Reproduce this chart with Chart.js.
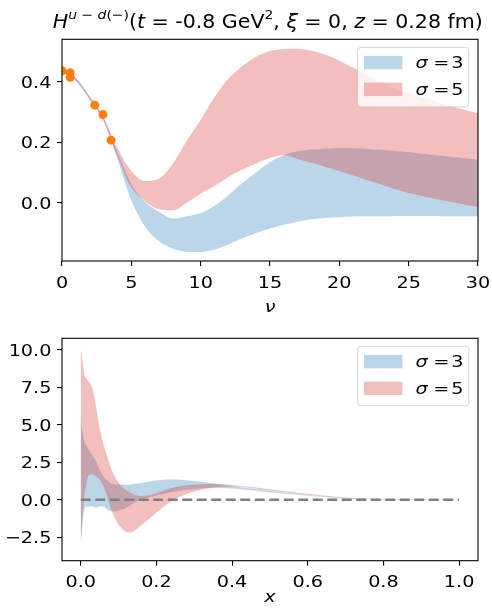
<!DOCTYPE html>
<html>
<head>
<meta charset="utf-8">
<script src="https://cdn.jsdelivr.net/npm/chart.js@4.4.0/dist/chart.umd.min.js"></script>
<style>
  html, body { margin: 0; padding: 0; background: #fff; }
  #wrap { position: relative; width: 492px; height: 612px; }
  canvas { position: absolute; left: 0; }
  #topChart { top: 0; }
  #bottomChart { top: 320px; }
</style>
</head>
<body>
<div id="wrap">
  <canvas id="topChart" width="492" height="320"></canvas>
  <canvas id="bottomChart" width="492" height="292"></canvas>
</div>
<script>
// --- ν-space: reconstructed matrix element, two prior widths ---
const nuGrid = [0, 1, 2, 3, 4, 5, 6, 7, 8, 9, 10, 11, 12, 13, 14, 15, 16, 17, 18, 19, 20, 21, 22, 23, 24, 25, 26, 27, 28, 29, 30];
const sig3NuUpper = [0.440, 0.412, 0.350, 0.280, 0.168, 0.062, 0.002, -0.030, -0.052, -0.045, -0.035, -0.010, 0.025, 0.065, 0.100, 0.135, 0.158, 0.170, 0.176, 0.179, 0.181, 0.180, 0.178, 0.175, 0.171, 0.167, 0.162, 0.157, 0.152, 0.147, 0.142];
const sig3NuLower = [0.433, 0.404, 0.341, 0.270, 0.145, 0.008, -0.080, -0.128, -0.152, -0.163, -0.163, -0.155, -0.138, -0.118, -0.100, -0.085, -0.073, -0.063, -0.055, -0.050, -0.048, -0.046, -0.045, -0.045, -0.044, -0.044, -0.044, -0.044, -0.045, -0.045, -0.045];
const sig5NuUpper = [0.441, 0.414, 0.352, 0.282, 0.180, 0.105, 0.072, 0.080, 0.130, 0.205, 0.275, 0.350, 0.410, 0.452, 0.483, 0.502, 0.509, 0.510, 0.503, 0.490, 0.470, 0.447, 0.422, 0.398, 0.378, 0.362, 0.348, 0.334, 0.320, 0.308, 0.296];
const sig5NuLower = [0.434, 0.406, 0.343, 0.272, 0.152, 0.050, 0.005, -0.022, -0.025, 0.000, 0.030, 0.055, 0.085, 0.110, 0.130, 0.148, 0.158, 0.145, 0.132, 0.118, 0.105, 0.090, 0.075, 0.060, 0.045, 0.032, 0.022, 0.012, 0.003, -0.006, -0.015];

// lattice matrix elements
const latticeNu = [0.0, 0.59, 0.59, 2.36, 2.95, 3.54];
const latticeVal = [0.437, 0.430, 0.415, 0.323, 0.292, 0.207];

// --- x-space distribution ---
const xGrid = [0, 0.005, 0.01, 0.015, 0.02, 0.03, 0.04, 0.05, 0.06, 0.07, 0.08, 0.09, 0.1, 0.11, 0.12, 0.13, 0.14, 0.16, 0.18, 0.2, 0.22, 0.25, 0.3, 0.35, 0.4, 0.45, 0.5, 0.55, 0.6, 0.65, 0.7, 0.75, 0.8, 0.9, 1.0];
const sig3XUpper = [5.25, 4.5, 3.8, 3.6, 3.4, 3.0, 2.6, 2.0, 1.55, 1.3, 1.1, 1.02, 1.0, 1.0, 1.0, 1.02, 1.05, 1.12, 1.2, 1.28, 1.33, 1.35, 1.25, 1.1, 0.9, 0.75, 0.6, 0.45, 0.32, 0.2, 0.11, 0.06, 0.03, 0.01, 0];
const sig3XLower = [-2.9, -1.5, -0.6, -0.45, -0.45, -0.45, -0.5, -0.45, -0.45, -0.65, -0.78, -0.78, -0.72, -0.66, -0.55, -0.38, -0.22, 0.0, 0.15, 0.28, 0.4, 0.55, 0.72, 0.78, 0.75, 0.63, 0.5, 0.38, 0.26, 0.16, 0.08, 0.04, 0.02, 0.005, 0];
const sig5XUpper = [10.1, 9.2, 8.3, 8.1, 7.9, 7.5, 6.3, 4.8, 3.7, 2.9, 2.1, 1.55, 1.15, 0.85, 0.65, 0.5, 0.35, 0.25, 0.3, 0.45, 0.62, 0.85, 1.02, 1.05, 0.98, 0.85, 0.7, 0.55, 0.4, 0.27, 0.15, 0.08, 0.04, 0.01, 0];
const sig5XLower = [-3.4, -1.0, 0.3, 1.0, 1.6, 1.7, 1.55, 1.35, 0.9, 0.2, -0.6, -1.2, -1.65, -1.95, -2.15, -2.2, -2.1, -1.7, -1.3, -0.85, -0.45, 0.05, 0.55, 0.82, 0.88, 0.78, 0.62, 0.47, 0.33, 0.2, 0.1, 0.05, 0.02, 0.005, 0];
const zeroLineX = [0, 1];
const zeroLineY = [0, 0];

// tick positions
const nuTicks = [0, 5, 10, 15, 20, 25, 30];
const topYTicks = [0.0, 0.2, 0.4];
const xTicks = [0.0, 0.2, 0.4, 0.6, 0.8, 1.0];
const bottomYTicks = [-2.5, 0.0, 2.5, 5.0, 7.5, 10.0];

const FONT = '"DejaVu Sans", sans-serif';
const TICK_SIZE = 16;
const TEXT_SX = 1.2;   // glyphs are set slightly wide
const BLUE = 'rgba(31,119,180,0.3)';
const RED = 'rgba(214,39,40,0.3)';

Chart.defaults.font.family = FONT;
Chart.defaults.color = '#000';

function pts(xs, ys) {
  return xs.map((x, i) => ({ x, y: ys[i] }));
}

function band(label, xs, hi, lo, color, order) {
  const common = { borderColor: 'transparent', borderWidth: 0, pointRadius: 0, cubicInterpolationMode: 'monotone', order };
  return [
    { ...common, label, data: pts(xs, hi), fill: '+1', backgroundColor: color },
    { ...common, label: label + '_lo', data: pts(xs, lo), fill: false }
  ];
}

function axis(ticks, min, max, size, horizontal) {
  return {
    type: 'linear', min, max,
    afterBuildTicks: s => { s.ticks = ticks.map(v => ({ value: v })); },
    ticks: { display: false },
    grid: { drawOnChartArea: false, drawTicks: true, tickLength: 5, color: '#000', lineWidth: 1.1 },
    border: { display: false },
    afterFit: s => { if (horizontal) s.height = size; else s.width = size; }
  };
}

// plain text, stretched horizontally around its anchor
function drawText(ctx, text, x, y, size, align, italic) {
  ctx.save();
  ctx.translate(x, y);
  ctx.scale(TEXT_SX, 1);
  ctx.font = (italic ? 'italic ' : '') + size + 'px ' + FONT;
  ctx.textAlign = align;
  ctx.textBaseline = 'alphabetic';
  ctx.fillStyle = '#000';
  ctx.fillText(text, 0, 0);
  ctx.restore();
}

function setPartFont(ctx, p, size) {
  const sz = p.sup ? size * 0.68 : size;
  ctx.font = (p.it ? 'italic ' : '') + sz + 'px ' + FONT;
}

function richWidth(ctx, parts, size) {
  let w = 0;
  parts.forEach(p => { setPartFont(ctx, p, size); w += ctx.measureText(p.t).width; });
  return w;
}

const framePlugin = {
  id: 'frame',
  afterDatasetsDraw(chart) {
    const { ctx, chartArea: a } = chart;
    ctx.save();
    ctx.strokeStyle = '#000';
    ctx.lineWidth = 1.1;
    ctx.strokeRect(a.left, a.top, a.right - a.left, a.bottom - a.top);
    ctx.restore();
  }
};

function axisTextPlugin(xFmt, yFmt, xTitle, xBase, titleBase) {
  return {
    id: 'axisText',
    afterDraw(chart) {
      const { ctx, chartArea: a, scales } = chart;
      scales.x.ticks.forEach(t => {
        drawText(ctx, xFmt(t.value), scales.x.getPixelForValue(t.value), a.bottom + xBase, TICK_SIZE, 'center');
      });
      scales.y.ticks.forEach(t => {
        drawText(ctx, yFmt(t.value), a.left - 10.6, scales.y.getPixelForValue(t.value) + 6, TICK_SIZE, 'right');
      });
      drawText(ctx, xTitle, (a.left + a.right) / 2, a.bottom + titleBase, TICK_SIZE, 'center', true);
    }
  };
}

const legendPlugin = {
  id: 'bandLegend',
  afterDraw(chart) {
    const { ctx, chartArea: a } = chart;
    const w = 111, h = 59.5;
    const x0 = a.right - 9.3 - w, y0 = a.top + 8;
    ctx.save();
    ctx.beginPath();
    ctx.roundRect(x0, y0, w, h, 3);
    ctx.fillStyle = 'rgba(255,255,255,0.8)';
    ctx.fill();
    ctx.strokeStyle = 'rgba(204,204,204,0.8)';
    ctx.lineWidth = 1;
    ctx.stroke();
    [[BLUE, '3'], [RED, '5']].forEach(([color, val], i) => {
      const base = y0 + 21 + i * 26.7;
      ctx.fillStyle = color;
      ctx.fillRect(x0 + 6.3, base - 12.4, 38.4, 13.4);
      drawText(ctx, 'σ', x0 + 57.7, base, TICK_SIZE, 'left', true);
      drawText(ctx, '=', x0 + 75.5, base, TICK_SIZE, 'left');
      drawText(ctx, val, x0 + 93.5, base, TICK_SIZE, 'left');
    });
    ctx.restore();
  }
};

const titleParts = [
  { t: 'H', it: true },
  { t: 'u', it: true, sup: true },
  { t: ' \u2212 ', sup: true },
  { t: 'd', it: true, sup: true },
  { t: '(\u2212)', sup: true },
  { t: '(' },
  { t: 't', it: true },
  { t: ' = -0.8 GeV' },
  { t: '2', sup: true },
  { t: ', ' },
  { t: 'ξ', it: true },
  { t: ' = 0, ' },
  { t: 'z', it: true },
  { t: ' = 0.28 fm)' }
];

const titlePlugin = {
  id: 'richTitle',
  afterDraw(chart) {
    const { ctx } = chart;
    const size = 18.8, left = 52.7, width = 430;
    ctx.save();
    ctx.fillStyle = '#000';
    ctx.textBaseline = 'alphabetic';
    const sx = width / richWidth(ctx, titleParts, size);
    ctx.translate(left, 27.7);
    ctx.scale(sx, 1);
    let x = 0;
    titleParts.forEach(p => {
      setPartFont(ctx, p, size);
      ctx.fillText(p.t, x, p.sup ? -size * 0.48 : 0);
      x += ctx.measureText(p.t).width;
    });
    ctx.restore();
  }
};

const baseOptions = {
  responsive: false,
  animation: false,
  events: [],
  plugins: { legend: { display: false }, tooltip: { enabled: false } }
};

new Chart(document.getElementById('topChart'), {
  type: 'line',
  data: {
    datasets: [
      {
        label: 'lattice', data: pts(latticeNu, latticeVal), showLine: false,
        pointRadius: 4.5, pointBackgroundColor: '#ff7f0e', pointBorderWidth: 0, order: 0
      },
      ...band('σ = 3', nuGrid, sig3NuUpper, sig3NuLower, BLUE, 2),
      ...band('σ = 5', nuGrid, sig5NuUpper, sig5NuLower, RED, 1)
    ]
  },
  options: {
    ...baseOptions,
    layout: { padding: { top: 39.3, right: 14, left: 0, bottom: 0 } },
    scales: {
      x: axis(nuTicks, 0, 30, 59, true),
      y: axis(topYTicks, -0.193, 0.541, 62, false)
    }
  },
  plugins: [framePlugin, legendPlugin, titlePlugin,
    axisTextPlugin(v => String(v), v => v.toFixed(1), 'ν', 27.3, 51.3)]
});

new Chart(document.getElementById('bottomChart'), {
  type: 'line',
  data: {
    datasets: [
      {
        label: 'zero', data: pts(zeroLineX, zeroLineY), borderColor: '#808080', borderWidth: 2.5,
        borderDash: [10, 4.5], pointRadius: 0, fill: false, order: 0
      },
      ...band('σ = 3', xGrid, sig3XUpper, sig3XLower, BLUE, 2),
      ...band('σ = 5', xGrid, sig5XUpper, sig5XLower, RED, 1)
    ]
  },
  options: {
    ...baseOptions,
    layout: { padding: { top: 18.3, right: 14, left: 0, bottom: 0 } },
    scales: {
      x: axis(xTicks, -0.0495, 1.05, 51.3, true),
      y: axis(bottomYTicks, -4.07, 10.77, 62, false)
    }
  },
  plugins: [framePlugin, legendPlugin,
    axisTextPlugin(v => v.toFixed(1), v => (v < 0 ? '\u2212' : '') + Math.abs(v).toFixed(1), 'x', 26.3, 41)]
});
</script>
</body>
</html>
